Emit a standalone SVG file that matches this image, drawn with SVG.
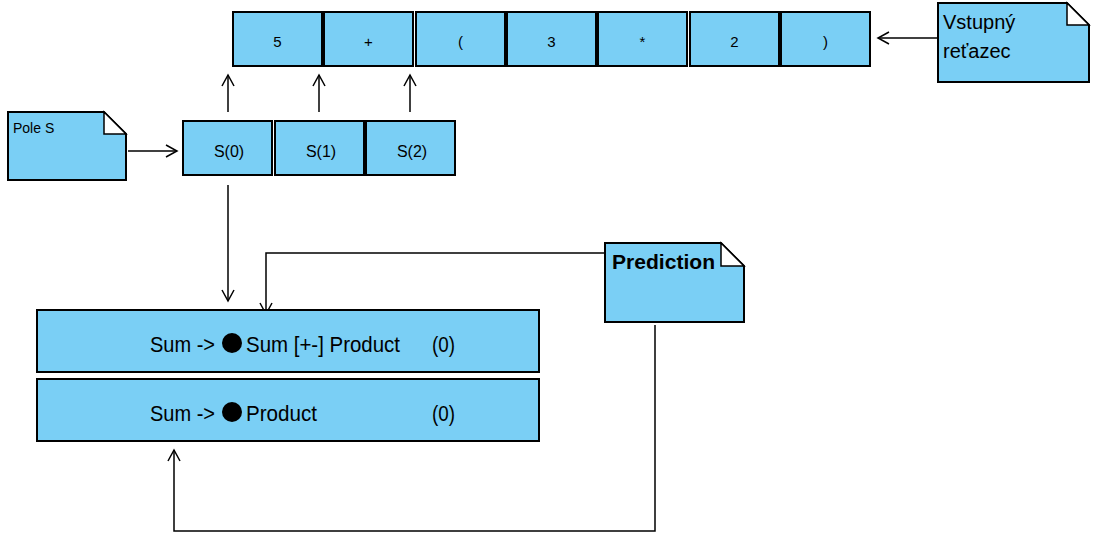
<svg xmlns="http://www.w3.org/2000/svg" width="1101" height="543" viewBox="0 0 1101 543">
<defs>
<style>
.box{fill:#7ACFF5;stroke:#000;stroke-width:2}
.fold{fill:#fff;stroke:#000;stroke-width:1.5}
.t{font-family:"Liberation Sans",Arial,sans-serif;fill:#000}
.s{font-size:15px}
.m{font-size:22px}
.c{stroke:#000;stroke-width:1.5;fill:none}
</style>
<marker id="a" markerWidth="14" markerHeight="14" refX="12" refY="7" orient="auto" markerUnits="userSpaceOnUse">
<path d="M1,1 L12,7 L1,13" fill="none" stroke="#000" stroke-width="1.5"/>
</marker>
</defs>
<rect width="1101" height="543" fill="#fff"/>
<g id="connectors">
<line class="c" x1="938" y1="38" x2="878" y2="38" marker-end="url(#a)"/>
<line class="c" x1="128" y1="151" x2="177" y2="151" marker-end="url(#a)"/>
<line class="c" x1="228" y1="112" x2="228" y2="75" marker-end="url(#a)"/>
<line class="c" x1="319" y1="112" x2="319" y2="75" marker-end="url(#a)"/>
<line class="c" x1="410" y1="112" x2="410" y2="75" marker-end="url(#a)"/>
<line class="c" x1="228" y1="185" x2="228" y2="301" marker-end="url(#a)"/>
<polyline class="c" points="605,253 266,253 266,314" marker-end="url(#a)"/>
<polyline class="c" points="655,325 655,531 174,531 174,450" marker-end="url(#a)"/>
</g>
<g id="cell-5"><rect class="box" x="233" y="12" width="89" height="54"/><text class="t s" x="277.5" y="47" text-anchor="middle">5</text></g>
<g id="cell-plus"><rect class="box" x="324" y="12" width="89" height="54"/><text class="t s" x="368.5" y="47" text-anchor="middle">+</text></g>
<g id="cell-lparen"><rect class="box" x="416" y="12" width="89" height="54"/><text class="t s" x="460.5" y="47" text-anchor="middle">(</text></g>
<g id="cell-3"><rect class="box" x="507" y="12" width="89" height="54"/><text class="t s" x="551.5" y="47" text-anchor="middle">3</text></g>
<g id="cell-star"><rect class="box" x="598" y="12" width="89" height="54"/><text class="t s" x="642.5" y="47" text-anchor="middle">*</text></g>
<g id="cell-2"><rect class="box" x="690" y="12" width="89" height="54"/><text class="t s" x="734.5" y="47" text-anchor="middle">2</text></g>
<g id="cell-rparen"><rect class="box" x="781" y="12" width="89" height="54"/><text class="t s" x="825.5" y="47" text-anchor="middle">)</text></g>
<g id="note-vstup">
<path class="box" d="M938,3 H1067 L1089,25 V82 H938 Z"/>
<path class="fold" d="M1067,3 V25 H1089 Z"/>
<text class="t" font-size="20" x="943" y="29">Vstupný</text>
<text class="t" font-size="20" x="943" y="58">reťazec</text>
</g>
<g id="note-pole">
<path class="box" d="M8,112 H104 L126,134 V180 H8 Z"/>
<path class="fold" d="M104,112 V134 H126 Z"/>
<text class="t" font-size="14" x="13" y="133">Pole S</text>
</g>
<g id="s0"><rect class="box" x="183" y="121" width="89" height="54"/><text class="t" font-size="16" x="229" y="157" text-anchor="middle">S(0)</text></g>
<g id="s1"><rect class="box" x="275" y="121" width="89" height="54"/><text class="t" font-size="16" x="321" y="157" text-anchor="middle">S(1)</text></g>
<g id="s2"><rect class="box" x="366" y="121" width="89" height="54"/><text class="t" font-size="16" x="412" y="157" text-anchor="middle">S(2)</text></g>
<g id="note-prediction">
<path class="box" d="M605,243 H721 L744,266 V322 H605 Z"/>
<path class="fold" d="M721,243 V266 H744 Z"/>
<text class="t" font-size="20" font-weight="bold" x="612" y="269" textLength="103" lengthAdjust="spacingAndGlyphs">Prediction</text>
</g>
<g id="rule-1">
<rect class="box" x="37" y="310" width="502" height="62"/>
<text class="t m" x="150" y="352" textLength="65" lengthAdjust="spacingAndGlyphs">Sum -&gt;</text>
<circle cx="232" cy="343" r="10" fill="#000"/>
<text class="t m" x="246" y="352" textLength="154" lengthAdjust="spacingAndGlyphs">Sum [+-] Product</text>
<text class="t m" x="432" y="352" textLength="23" lengthAdjust="spacingAndGlyphs">(0)</text>
</g>
<g id="rule-2">
<rect class="box" x="37" y="379" width="502" height="62"/>
<text class="t m" x="150" y="421" textLength="65" lengthAdjust="spacingAndGlyphs">Sum -&gt;</text>
<circle cx="232" cy="412" r="10" fill="#000"/>
<text class="t m" x="246" y="421" textLength="71" lengthAdjust="spacingAndGlyphs">Product</text>
<text class="t m" x="432" y="421" textLength="23" lengthAdjust="spacingAndGlyphs">(0)</text>
</g>
</svg>
